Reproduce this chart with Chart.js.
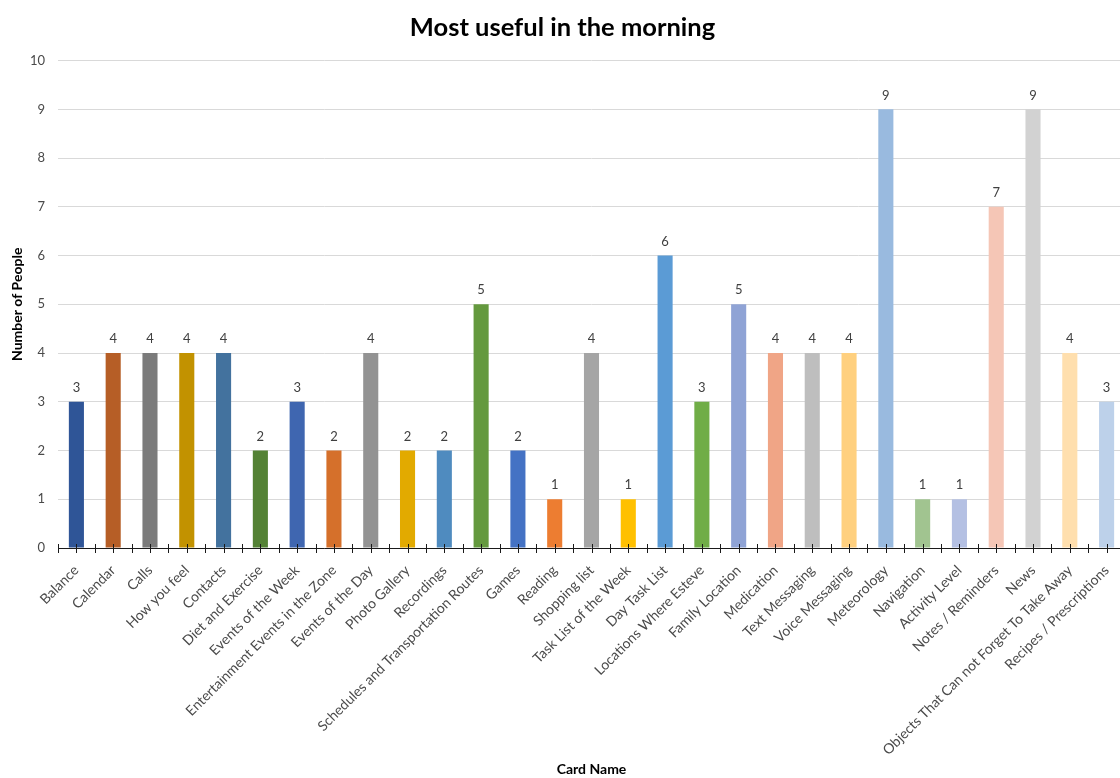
<!DOCTYPE html>
<html>
<head>
<meta charset="utf-8">
<script src="https://cdn.jsdelivr.net/npm/chart.js@4/dist/chart.umd.min.js"></script>
<style>
  html, body { margin: 0; padding: 0; background: #fff; overflow: hidden; }
  #wrap { position: relative; width: 1125px; height: 778px; }
</style>
</head>
<body>
<div id="wrap"><canvas id="chart"></canvas></div>
<script>
// Card names on the x axis
const categories = [
  'Balance', 'Calendar', 'Calls', 'How you feel', 'Contacts', 'Diet and Exercise',
  'Events of the Week', 'Entertainment Events in the Zone', 'Events of the Day',
  'Photo Gallery', 'Recordings', 'Schedules and Transportation Routes', 'Games',
  'Reading', 'Shopping list', 'Task List of the Week', 'Day Task List',
  'Locations Where Esteve', 'Family Location', 'Medication', 'Text Messaging',
  'Voice Messaging', 'Meteorology', 'Navigation', 'Activity Level',
  'Notes / Reminders', 'News', 'Objects That Can not Forget To Take Away',
  'Recipes / Prescriptions'
];

// Number of people who chose each card
const people = [3, 4, 4, 4, 4, 2, 3, 2, 4, 2, 2, 5, 2, 1, 4, 1, 6, 3, 5, 4, 4, 4, 9, 1, 1, 7, 9, 4, 3];

// One fill per card
const barColors = [
  '#2F5597', '#B65E26', '#7B7B7B', '#C29200', '#43729E', '#548235',
  '#3F66B0', '#D5702B', '#939393', '#E2AA00', '#4F8BBF', '#64993E',
  '#4472C4', '#ED7D31', '#A5A5A5', '#FFC000', '#5B9BD5', '#70AD47',
  '#8FA3D5', '#F0A586', '#BEBEBE', '#FFD07F', '#99BADF', '#A1C490',
  '#B4C0E3', '#F5C6B6', '#D2D2D2', '#FFDFAE', '#BDD1EA'
];

// Y axis range
const yMin = 0;
const yMax = 10;
const yStep = 1;

const FONT = 'Lato, "Open Sans", "Noto Sans", sans-serif';

// Black category axis with tick marks at bar centres and between bars
const categoryAxisPlugin = {
  id: 'categoryAxis',
  afterDatasetsDraw(chart) {
    const { ctx, chartArea } = chart;
    const x = chart.scales.x;
    const y = chartArea.bottom;
    ctx.save();
    ctx.strokeStyle = '#1a1a1a';
    ctx.lineWidth = 1;
    ctx.beginPath();
    ctx.moveTo(chartArea.left, y + 0.5);
    ctx.lineTo(chartArea.right, y + 0.5);
    const step = categories.length > 1 ? x.getPixelForValue(1) - x.getPixelForValue(0) : 0;
    for (let i = 0; i < categories.length; i++) {
      const c = x.getPixelForValue(i);
      const b = Math.round(c - step / 2) + 0.5;
      ctx.moveTo(b, y - 4);
      ctx.lineTo(b, y + 5);
      const m = Math.round(c) + 0.5;
      ctx.moveTo(m, y - 4);
      ctx.lineTo(m, y + 5);
    }
    const last = Math.round(x.getPixelForValue(categories.length - 1) + step / 2) + 0.5;
    ctx.moveTo(last, y - 4);
    ctx.lineTo(last, y + 5);
    ctx.stroke();
    ctx.restore();
  }
};

// Value labels above each bar
const valueLabelPlugin = {
  id: 'valueLabels',
  afterDatasetsDraw(chart) {
    const { ctx } = chart;
    const meta = chart.getDatasetMeta(0);
    ctx.save();
    ctx.font = '13px ' + FONT;
    ctx.fillStyle = '#404040';
    ctx.textAlign = 'center';
    ctx.textBaseline = 'middle';
    meta.data.forEach((bar, i) => {
      ctx.fillText(String(people[i]), bar.x, bar.y - 14);
    });
    ctx.restore();
  }
};

new Chart(document.getElementById('chart'), {
  type: 'bar',
  data: {
    labels: categories,
    datasets: [{
      label: 'Number of People',
      data: people,
      backgroundColor: barColors,
      borderWidth: 0,
      categoryPercentage: 1.0,
      barPercentage: 0.41
    }]
  },
  options: {
    responsive: true,
    maintainAspectRatio: false,
    animation: false,
    layout: { padding: { left: 0, right: 0, top: 12, bottom: 0 } },
    plugins: {
      legend: { display: false },
      tooltip: { enabled: false },
      title: {
        display: true,
        text: 'Most useful in the morning',
        color: '#000000',
        font: { family: FONT, size: 25.5, weight: 'bold' },
        padding: { top: 0, bottom: 18 }
      }
    },
    scales: {
      x: {
        grid: { display: false },
        border: { display: false },
        ticks: {
          color: '#4a4a4a',
          font: { family: FONT, size: 14 },
          minRotation: 45,
          maxRotation: 45,
          autoSkip: false,
          padding: 6
        },
        title: {
          display: true,
          text: 'Card Name',
          color: '#000000',
          font: { family: FONT, size: 14, weight: 'bold' },
          padding: { top: 0, bottom: 0 }
        },
        afterFit(scale) { scale.height = 778 - 548; }
      },
      y: {
        min: yMin,
        max: yMax,
        grid: { color: '#D9D9D9', drawTicks: false },
        border: { display: false },
        ticks: {
          stepSize: yStep,
          color: '#4a4a4a',
          font: { family: FONT, size: 13 },
          padding: 13
        },
        title: {
          display: true,
          text: 'Number of People',
          color: '#000000',
          font: { family: FONT, size: 14, weight: 'bold' },
          padding: { top: 9, bottom: 0 }
        },
        afterFit(scale) { scale.width = 58; }
      }
    }
  },
  plugins: [categoryAxisPlugin, valueLabelPlugin]
});
</script>
</body>
</html>
